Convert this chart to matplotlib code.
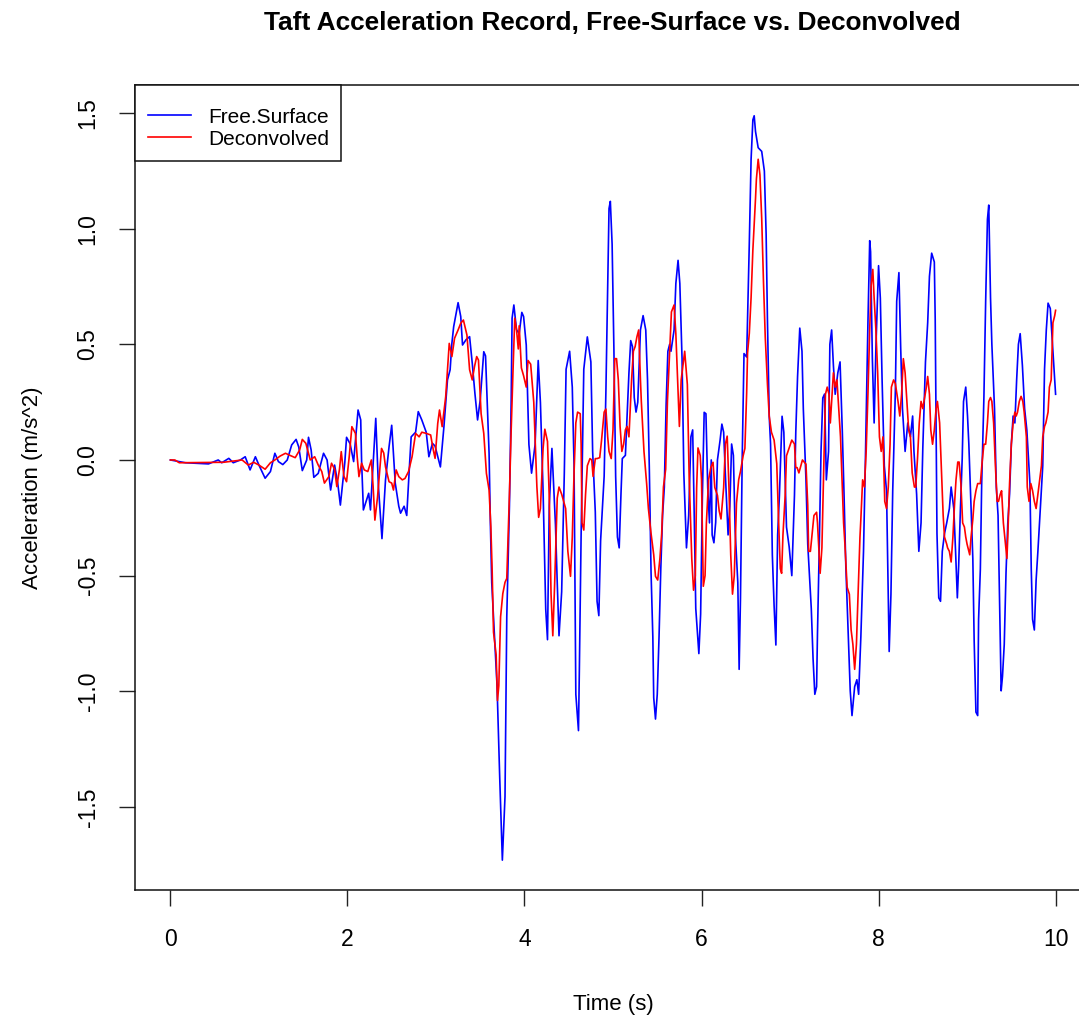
import matplotlib
matplotlib.use("Agg")
import matplotlib.pyplot as plt

plt.rcParams["font.family"] = ["Liberation Sans", "DejaVu Sans"]

# values (peaks / troughs of each trace)
free_time = [
    0.00, 0.17, 0.43, 0.54, 0.58, 0.66, 0.71, 0.79, 0.845, 0.90, 0.96, 1.00, 1.07, 1.13, 1.18,
    1.22, 1.27, 1.32, 1.37, 1.42, 1.45, 1.49, 1.54, 1.56, 1.59, 1.62, 1.67, 1.73, 1.77, 1.81,
    1.855, 1.89, 1.92, 1.97, 1.99, 2.03, 2.07, 2.12, 2.15, 2.16, 2.18, 2.24, 2.26, 2.32, 2.35,
    2.39, 2.43, 2.47, 2.50, 2.54, 2.58, 2.60, 2.64, 2.67, 2.70, 2.72, 2.77, 2.80, 2.84, 2.89,
    2.92, 2.96, 2.99, 3.05, 3.09, 3.13, 3.16, 3.18, 3.20, 3.25, 3.28, 3.30, 3.34, 3.38, 3.41,
    3.44, 3.47, 3.50, 3.54, 3.56, 3.60, 3.615, 3.63, 3.69, 3.72, 3.75, 3.78, 3.80, 3.83, 3.85,
    3.86, 3.88, 3.91, 3.94, 3.97, 3.99, 4.02, 4.05, 4.08, 4.12, 4.155, 4.18, 4.21, 4.24, 4.26,
    4.28, 4.31, 4.35, 4.37, 4.39, 4.42, 4.45, 4.47, 4.51, 4.54, 4.56, 4.58, 4.61, 4.62, 4.64,
    4.67, 4.71, 4.75, 4.77, 4.80, 4.82, 4.84, 4.86, 4.90, 4.92, 4.94, 4.955, 4.97, 4.99, 5.01,
    5.03, 5.05, 5.07, 5.09, 5.105, 5.14, 5.18, 5.20, 5.22, 5.24, 5.26, 5.28, 5.31, 5.34, 5.37,
    5.39, 5.41, 5.43, 5.45, 5.46, 5.48, 5.50, 5.52, 5.54, 5.56, 5.58, 5.60, 5.62, 5.64, 5.655,
    5.69, 5.71, 5.735, 5.755, 5.78, 5.80, 5.83, 5.855, 5.88, 5.90, 5.915, 5.935, 5.97, 5.99,
    6.01, 6.03, 6.05, 6.07, 6.09, 6.11, 6.12, 6.14, 6.16, 6.18, 6.21, 6.23, 6.25, 6.27, 6.30,
    6.32, 6.34, 6.36, 6.38, 6.41, 6.425, 6.44, 6.46, 6.48, 6.51, 6.54, 6.56, 6.58, 6.595, 6.61,
    6.64, 6.68, 6.71, 6.73, 6.745, 6.765, 6.78, 6.80, 6.82, 6.84, 6.86, 6.88, 6.91, 6.93, 6.96,
    6.99, 7.02, 7.05, 7.065, 7.085, 7.11, 7.135, 7.15, 7.18, 7.20, 7.24, 7.26, 7.28, 7.30, 7.31,
    7.33, 7.35, 7.37, 7.39, 7.41, 7.435, 7.45, 7.47, 7.49, 7.51, 7.54, 7.565, 7.59, 7.61, 7.63,
    7.66, 7.68, 7.70, 7.73, 7.755, 7.775, 7.80, 7.83, 7.85, 7.88, 7.90, 7.91, 7.93, 7.95, 7.97,
    8.00, 8.02, 8.04, 8.065, 8.09, 8.11, 8.12, 8.14, 8.16, 8.19, 8.205, 8.23, 8.25, 8.27, 8.30,
    8.33, 8.36, 8.385, 8.40, 8.43, 8.455, 8.48, 8.50, 8.53, 8.555, 8.575, 8.60, 8.63, 8.64, 8.66,
    8.68, 8.70, 8.72, 8.745, 8.77, 8.80, 8.82, 8.85, 8.87, 8.89, 8.905, 8.925, 8.945, 8.96, 8.985,
    9.005, 9.02, 9.04, 9.065, 9.08, 9.10, 9.12, 9.13, 9.15, 9.165, 9.19, 9.21, 9.23, 9.245, 9.265,
    9.28, 9.31, 9.33, 9.35, 9.37, 9.385, 9.40, 9.42, 9.44, 9.46, 9.48, 9.50, 9.52, 9.54, 9.56,
    9.58, 9.60, 9.625, 9.65, 9.675, 9.71, 9.725, 9.74, 9.76, 9.78, 9.80, 9.83, 9.855, 9.875, 9.895,
    9.915, 9.94, 9.97, 9.99, 10.00,
]
free_acc = [
    0.000, -0.012, -0.017, 0.000, -0.012, 0.007, -0.012, 0.000, 0.014, -0.043, 0.014, -0.022, -0.079, -0.050, 0.029,
    -0.007, -0.020, 0.000, 0.065, 0.089, 0.056, -0.046, 0.000, 0.098, 0.043, -0.075, -0.058, 0.029, 0.000, -0.130,
    -0.022, -0.100, -0.195, -0.012, 0.098, 0.070, -0.007, 0.216, 0.173, -0.007, -0.216, -0.144, -0.216, 0.180, -0.115,
    -0.340, -0.086, 0.057, 0.150, -0.100, -0.200, -0.230, -0.200, -0.240, -0.030, 0.100, 0.120, 0.209, 0.173, 0.120,
    0.014, 0.072, 0.060, -0.030, 0.144, 0.346, 0.390, 0.505, 0.576, 0.680, 0.620, 0.497, 0.520, 0.533, 0.418,
    0.288, 0.173, 0.260, 0.468, 0.450, 0.029, -0.280, -0.530, -0.976, -1.370, -1.730, -1.455, -0.678, -0.198, 0.265,
    0.613, 0.670, 0.563, 0.546, 0.638, 0.620, 0.497, 0.067, -0.057, 0.067, 0.430, 0.249, -0.132, -0.645, -0.777,
    -0.198, 0.050, -0.280, -0.530, -0.760, -0.570, -0.056, 0.392, 0.470, 0.315, -0.025, -1.013, -1.170, -0.905, -0.318,
    0.392, 0.532, 0.424, 0.037, -0.225, -0.611, -0.673, -0.349, -0.071, 0.300, 0.748, 1.087, 1.118, 0.933, 0.485,
    -0.071, -0.333, -0.380, -0.148, 0.006, 0.020, 0.376, 0.516, 0.490, 0.270, 0.207, 0.250, 0.562, 0.624, 0.562,
    0.346, -0.030, -0.488, -0.765, -1.028, -1.120, -1.013, -0.765, -0.470, -0.240, -0.117, 0.238, 0.470, 0.500, 0.470,
    0.562, 0.763, 0.863, 0.763, 0.438, -0.056, -0.380, -0.240, 0.100, 0.130, -0.179, -0.642, -0.837, -0.666,
    -0.153, 0.206, 0.200, -0.119, -0.272, 0.000, -0.324, -0.358, -0.270, 0.000, 0.086, 0.155, 0.120, -0.067, -0.324,
    -0.200, 0.069, 0.020, -0.307, -0.530, -0.905, -0.600, 0.018, 0.460, 0.445, 0.940, 1.300, 1.470, 1.488, 1.420,
    1.350, 1.334, 1.249, 0.975, 0.600, 0.189, 0.069, -0.410, -0.630, -0.800, -0.324, -0.153, 0.189, 0.120, -0.290,
    -0.375, -0.500, -0.153, 0.121, 0.360, 0.570, 0.470, 0.222, -0.086, -0.364, -0.642, -0.858, -1.013, -0.980, -0.750,
    -0.380, 0.037, 0.268, 0.285, -0.086, 0.037, 0.500, 0.562, 0.408, 0.284, 0.377, 0.424, 0.130, -0.148, -0.457,
    -0.780, -0.998, -1.105, -0.980, -0.950, -1.013, -0.765, -0.395, -0.025, 0.593, 0.948, 0.900, 0.438, 0.160, 0.485,
    0.840, 0.700, 0.346, -0.025, -0.133, -0.596, -0.828, -0.580, -0.133, 0.300, 0.686, 0.810, 0.485, 0.222, 0.037,
    0.160, 0.100, 0.190, 0.037, -0.148, -0.395, -0.272, 0.052, 0.424, 0.593, 0.794, 0.894, 0.856, 0.608, -0.318,
    -0.596, -0.611, -0.395, -0.318, -0.272, -0.210, -0.117, -0.210, -0.395, -0.596, -0.457, -0.210, 0.006, 0.253, 0.315,
    0.190, 0.068, -0.148, -0.426, -0.780, -1.090, -1.105, -0.689, -0.472, -0.102, 0.268, 0.686, 1.040, 1.102, 0.700,
    0.500, 0.222, -0.117, -0.240, -0.673, -0.998, -0.936, -0.797, -0.488, -0.272, -0.148, 0.068, 0.190, 0.160, 0.346,
    0.500, 0.546, 0.408, 0.222, 0.130, -0.102, -0.472, -0.689, -0.735, -0.519, -0.395, -0.195, -0.025, 0.392, 0.562,
    0.678, 0.655, 0.470, 0.346, 0.284,
]

deconv_time = [
    0.00, 0.05, 0.10, 0.60, 0.81, 0.88, 0.94, 1.00, 1.07, 1.13, 1.18, 1.24, 1.30, 1.35, 1.41,
    1.46, 1.49, 1.53, 1.58, 1.63, 1.67, 1.71, 1.74, 1.79, 1.82, 1.855, 1.88, 1.91, 1.93, 1.96,
    1.99, 2.02, 2.05, 2.09, 2.11, 2.13, 2.16, 2.19, 2.23, 2.27, 2.29, 2.31, 2.34, 2.365, 2.385,
    2.41, 2.43, 2.47, 2.50, 2.52, 2.55, 2.58, 2.62, 2.65, 2.69, 2.73, 2.77, 2.81, 2.84, 2.89,
    2.94, 2.97, 2.99, 3.02, 3.04, 3.07, 3.11, 3.13, 3.15, 3.18, 3.21, 3.25, 3.28, 3.31, 3.35,
    3.38, 3.41, 3.435, 3.46, 3.48, 3.51, 3.54, 3.57, 3.60, 3.62, 3.635, 3.65, 3.68, 3.695, 3.71,
    3.73, 3.755, 3.78, 3.80, 3.83, 3.85, 3.87, 3.89, 3.91, 3.93, 3.94, 3.965, 3.99, 4.02, 4.04,
    4.07, 4.105, 4.14, 4.16, 4.18, 4.21, 4.23, 4.26, 4.28, 4.30, 4.32, 4.34, 4.37, 4.39, 4.42,
    4.465, 4.49, 4.52, 4.54, 4.56, 4.58, 4.60, 4.63, 4.64, 4.65, 4.67, 4.69, 4.71, 4.74, 4.76,
    4.775, 4.80, 4.82, 4.85, 4.87, 4.90, 4.92, 4.94, 4.955, 4.98, 5.00, 5.02, 5.04, 5.06, 5.08,
    5.10, 5.12, 5.14, 5.16, 5.18, 5.21, 5.23, 5.25, 5.27, 5.29, 5.31, 5.32, 5.35, 5.38, 5.40,
    5.43, 5.46, 5.48, 5.505, 5.53, 5.55, 5.57, 5.595, 5.615, 5.64, 5.66, 5.69, 5.71, 5.73, 5.75,
    5.77, 5.79, 5.81, 5.84, 5.86, 5.89, 5.91, 5.93, 5.945, 5.96, 5.985, 6.00, 6.02, 6.04, 6.055,
    6.08, 6.105, 6.13, 6.15, 6.18, 6.20, 6.22, 6.25, 6.27, 6.29, 6.31, 6.33, 6.35, 6.37, 6.395,
    6.42, 6.44, 6.47, 6.49, 6.51, 6.52, 6.54, 6.56, 6.58, 6.61, 6.62, 6.64, 6.66, 6.68, 6.70,
    6.72, 6.745, 6.765, 6.79, 6.82, 6.85, 6.87, 6.89, 6.905, 6.92, 6.945, 6.96, 6.99, 7.02, 7.05,
    7.065, 7.08, 7.10, 7.14, 7.18, 7.20, 7.21, 7.23, 7.25, 7.27, 7.30, 7.31, 7.34, 7.36, 7.38,
    7.40, 7.42, 7.44, 7.455, 7.47, 7.49, 7.51, 7.53, 7.55, 7.57, 7.59, 7.605, 7.62, 7.645, 7.67,
    7.69, 7.71, 7.73, 7.75, 7.77, 7.79, 7.80, 7.82, 7.84, 7.86, 7.88, 7.90, 7.915, 7.935, 7.95,
    7.97, 7.99, 8.01, 8.03, 8.05, 8.07, 8.09, 8.11, 8.13, 8.145, 8.17, 8.19, 8.22, 8.24, 8.26,
    8.28, 8.30, 8.32, 8.34, 8.36, 8.38, 8.405, 8.42, 8.44, 8.46, 8.48, 8.50, 8.54, 8.555, 8.575,
    8.59, 8.61, 8.63, 8.65, 8.665, 8.69, 8.71, 8.73, 8.745, 8.77, 8.78, 8.80, 8.82, 8.84, 8.86,
    8.875, 8.895, 8.91, 8.93, 8.95, 8.97, 8.985, 9.00, 9.03, 9.045, 9.065, 9.08, 9.10, 9.12, 9.15,
    9.17, 9.19, 9.21, 9.23, 9.245, 9.265, 9.28, 9.30, 9.32, 9.34, 9.355, 9.375, 9.39, 9.41, 9.43,
    9.45, 9.46, 9.48, 9.50, 9.52, 9.54, 9.555, 9.57, 9.59, 9.61, 9.63, 9.645, 9.67, 9.68, 9.70,
    9.72, 9.74, 9.76, 9.78, 9.80, 9.81, 9.84, 9.855, 9.875, 9.89, 9.915, 9.93, 9.95, 9.97, 9.99,
    10.00,
]
deconv_acc = [
    0.000, 0.000, -0.012, -0.010, 0.000, -0.022, -0.010, -0.022, -0.040, -0.012, 0.000, 0.017, 0.029, 0.020, 0.010,
    0.043, 0.089, 0.072, 0.000, 0.014, -0.022, -0.050, -0.100, -0.072, -0.014, -0.040, -0.115, -0.040, 0.036, -0.070,
    -0.094, 0.014, 0.144, 0.115, 0.014, -0.072, -0.014, -0.043, -0.050, 0.000, -0.115, -0.260, -0.160, -0.043, 0.050,
    0.030, -0.030, -0.094, -0.100, -0.130, -0.043, -0.072, -0.086, -0.080, -0.050, 0.014, 0.115, 0.100, 0.120, 0.115,
    0.108, 0.043, 0.007, 0.158, 0.216, 0.144, 0.274, 0.390, 0.504, 0.447, 0.526, 0.562, 0.591, 0.605, 0.540,
    0.390, 0.346, 0.403, 0.447, 0.432, 0.200, 0.115, -0.058, -0.130, -0.288, -0.480, -0.744, -0.843, -1.040, -0.976,
    -0.678, -0.578, -0.529, -0.512, -0.148, 0.133, 0.381, 0.613, 0.563, 0.480, 0.580, 0.398, 0.364, 0.315, 0.430,
    0.414, 0.249, -0.115, -0.248, -0.210, 0.050, 0.133, 0.080, -0.165, -0.578, -0.760, -0.545, -0.165, -0.117, -0.148,
    -0.210, -0.395, -0.503, -0.333, -0.056, 0.160, 0.207, 0.200, 0.068, -0.272, -0.303, -0.148, -0.025, 0.006, 0.000,
    -0.071, 0.006, 0.006, 0.010, 0.083, 0.207, 0.220, 0.100, 0.037, 0.006, 0.130, 0.438, 0.438, 0.346, 0.145,
    0.037, 0.068, 0.130, 0.145, 0.100, 0.346, 0.470, 0.490, 0.532, 0.562, 0.346, 0.253, 0.037, -0.102, -0.210,
    -0.318, -0.410, -0.503, -0.519, -0.426, -0.318, -0.117, -0.040, 0.253, 0.470, 0.640, 0.670, 0.546, 0.346, 0.145,
    0.346, 0.408, 0.470, 0.326, -0.067, -0.427, -0.563, -0.500, -0.119, 0.052, 0.020, -0.085, -0.546, -0.500, -0.272,
    -0.085, -0.033, -0.010, -0.119, -0.153, -0.221, -0.255, -0.120, 0.069, 0.103, -0.120, -0.410, -0.580, -0.500, -0.187,
    -0.085, -0.050, 0.018, 0.050, 0.291, 0.462, 0.548, 0.702, 0.907, 1.130, 1.214, 1.300, 1.232, 1.044, 0.770,
    0.531, 0.326, 0.189, 0.120, 0.086, -0.016, -0.255, -0.470, -0.490, -0.324, -0.153, 0.018, 0.052, 0.086, 0.069,
    -0.033, -0.033, -0.056, 0.000, -0.018, -0.195, -0.395, -0.395, -0.318, -0.240, -0.226, -0.272, -0.490, -0.380, -0.056,
    0.284, 0.315, 0.284, 0.160, 0.253, 0.377, 0.315, 0.346, 0.222, 0.100, -0.117, -0.272, -0.364, -0.550, -0.580,
    -0.735, -0.797, -0.905, -0.797, -0.565, -0.333, -0.256, -0.086, -0.117, 0.037, 0.284, 0.562, 0.748, 0.824, 0.700,
    0.562, 0.377, 0.100, 0.037, 0.100, -0.179, -0.210, -0.117, 0.068, 0.315, 0.346, 0.330, 0.253, 0.190, 0.284,
    0.438, 0.377, 0.253, 0.130, 0.100, -0.056, -0.117, -0.117, 0.006, 0.160, 0.253, 0.222, 0.315, 0.361, 0.284,
    0.130, 0.068, 0.130, 0.222, 0.253, 0.160, -0.040, -0.240, -0.333, -0.364, -0.380, -0.395, -0.441, -0.333, -0.179,
    -0.086, -0.009, -0.009, -0.102, -0.272, -0.290, -0.333, -0.364, -0.410, -0.333, -0.256, -0.179, -0.133, -0.102, -0.102,
    -0.009, 0.068, 0.068, 0.160, 0.253, 0.270, 0.253, 0.160, -0.025, -0.179, -0.179, -0.148, -0.133, -0.272, -0.350,
    -0.426, -0.333, -0.102, 0.068, 0.160, 0.207, 0.190, 0.207, 0.253, 0.275, 0.253, 0.207, 0.100, -0.117, -0.179,
    -0.102, -0.133, -0.179, -0.210, -0.148, -0.117, -0.025, 0.100, 0.145, 0.160, 0.207, 0.315, 0.346, 0.593, 0.624,
    0.647,
]

x_ticks = [0, 2, 4, 6, 8, 10]
y_ticks = [-1.5, -1.0, -0.5, 0.0, 0.5, 1.0, 1.5]

fig = plt.figure(figsize=(10.79, 10.19), dpi=100)
# plot region runs past the right edge, like the cropped original
ax = fig.add_axes([135 / 1079, 129 / 1019, 956 / 1079, 805 / 1019])

ax.plot(free_time, free_acc, color="#0000FF", lw=1.2, label="Free.Surface")
ax.plot(deconv_time, deconv_acc, color="#FF0000", lw=1.2, label="Deconvolved")

ax.set_xlim(-0.4, 10.4)
ax.set_ylim(-1.859, 1.621)

ax.set_xticks(x_ticks)
ax.set_xticklabels([str(v) for v in x_ticks])
ax.set_yticks(y_ticks)
ax.set_yticklabels([f"{v:.1f}" for v in y_ticks], rotation=90, va="center")
ax.tick_params(axis="both", direction="out", length=11.5, width=1.0, labelsize=16.5, color="#222222")
ax.tick_params(axis="x", pad=15.5)
ax.tick_params(axis="y", pad=14)
for s in ax.spines.values():
    s.set_linewidth(1.1)
    s.set_color("#111111")

ax.set_xlabel("Time (s)", fontsize=16)
ax.xaxis.set_label_coords(0.5, -0.142)
ax.xaxis.label.set_va("center")
ax.set_ylabel("Acceleration (m/s^2)", fontsize=16)
ax.yaxis.set_label_coords(-0.107, 0.5)
ax.yaxis.label.set_va("center")

fig.text(612 / 1079, 1 - 23 / 1019, "Taft Acceleration Record, Free-Surface vs. Deconvolved",
         ha="center", va="center", fontsize=18.9, fontweight="bold")

# blank title only adds the extra top padding seen in the R legend box
leg = ax.legend(loc="upper left", bbox_to_anchor=(0, 1), borderaxespad=0, fontsize=15,
                frameon=True, fancybox=False, edgecolor="#111111", framealpha=1,
                handlelength=2.1, handletextpad=0.8, borderpad=0.6, labelspacing=0.15,
                title=" ", title_fontsize=5)
leg.get_frame().set_linewidth(1.1)

fig.savefig("out.png", dpi=100)
